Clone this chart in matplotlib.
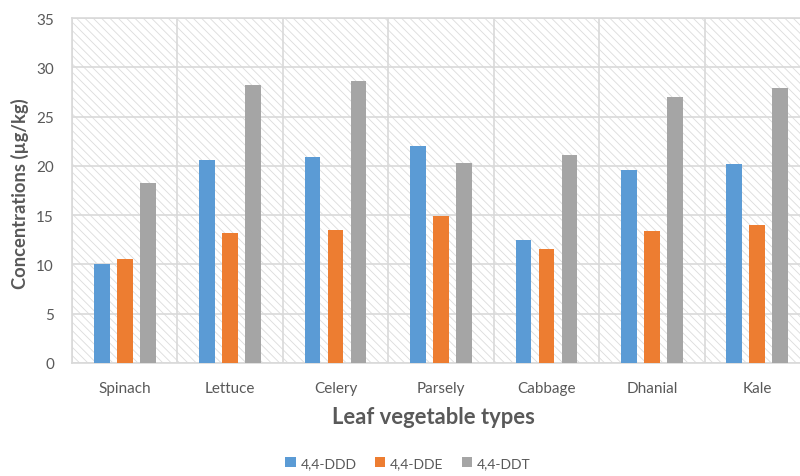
import matplotlib
matplotlib.use("Agg")
import matplotlib.pyplot as plt
import numpy as np
from matplotlib.patches import Rectangle

plt.rcParams['font.family'] = ['Lato', 'DejaVu Sans']
plt.rcParams['hatch.linewidth'] = 0.6

vegetables = ["Spinach", "Lettuce", "Celery", "Parsely", "Cabbage", "Dhanial", "Kale"]
ddd = [10.0, 20.6, 20.9, 22.0, 12.5, 19.6, 20.15]
dde = [10.5, 13.2, 13.45, 14.9, 11.55, 13.4, 14.0]
ddt = [18.3, 28.2, 28.6, 20.25, 21.1, 27.0, 27.9]
series = [ddd, dde, ddt]
labels = ["4,4-DDD", "4,4-DDE", "4,4-DDT"]
colors = ["#5B9BD5", "#ED7D31", "#A5A5A5"]

txt = "#595959"
gridc = "#d9d9d9"

fig = plt.figure(figsize=(8, 4.77), dpi=100)
ax = fig.add_axes([0.09, 0.237, 0.9225, 0.723])

x = np.arange(len(vegetables))
ax.set_xlim(-0.5, len(vegetables) - 0.5)
ax.set_ylim(0, 35)

# hatched plot background
ax.add_patch(Rectangle((0, 0), 1, 1, transform=ax.transAxes, facecolor="white",
                       edgecolor="#dcdcdc", hatch="\\\\\\\\", lw=0, zorder=0))

pitch = 0.218
width = 0.15
for i, vals in enumerate(series):
    ax.bar(x + (i - 1) * pitch, vals, width, color=colors[i], label=labels[i], zorder=3)

ax.set_yticks(np.arange(0, 36, 5))
ax.set_xticks(x)
ax.set_xticklabels(vegetables)
ax.set_xticks(np.arange(-0.5, len(vegetables), 1), minor=True)
ax.grid(axis="y", which="major", color=gridc, lw=1.2, zorder=1)
ax.grid(axis="x", which="minor", color=gridc, lw=1.2, zorder=1)
ax.tick_params(which="both", length=0)
ax.tick_params(axis="both", labelcolor=txt, labelsize=11)
ax.tick_params(axis="x", pad=13)
ax.tick_params(axis="y", pad=13)
for s in ax.spines.values():
    s.set_color(gridc)
    s.set_linewidth(1.2)

ax.set_ylabel("Concentrations (µg/kg)", fontsize=13.2, fontweight="bold", color=txt,
              va="center")
ax.yaxis.set_label_coords(-0.07, 0.495)
ax.set_xlabel("Leaf vegetable types", fontsize=15.8, fontweight="bold", color=txt,
              va="center")
ax.xaxis.set_label_coords(0.49, -0.154)

fig.legend(loc="center", bbox_to_anchor=(0.51, 0.027), ncol=3, frameon=False,
           fontsize=10, labelcolor=txt, handlelength=0.75, handleheight=0.75,
           handletextpad=0.35, columnspacing=1.3)

fig.savefig("out.png", dpi=100)
